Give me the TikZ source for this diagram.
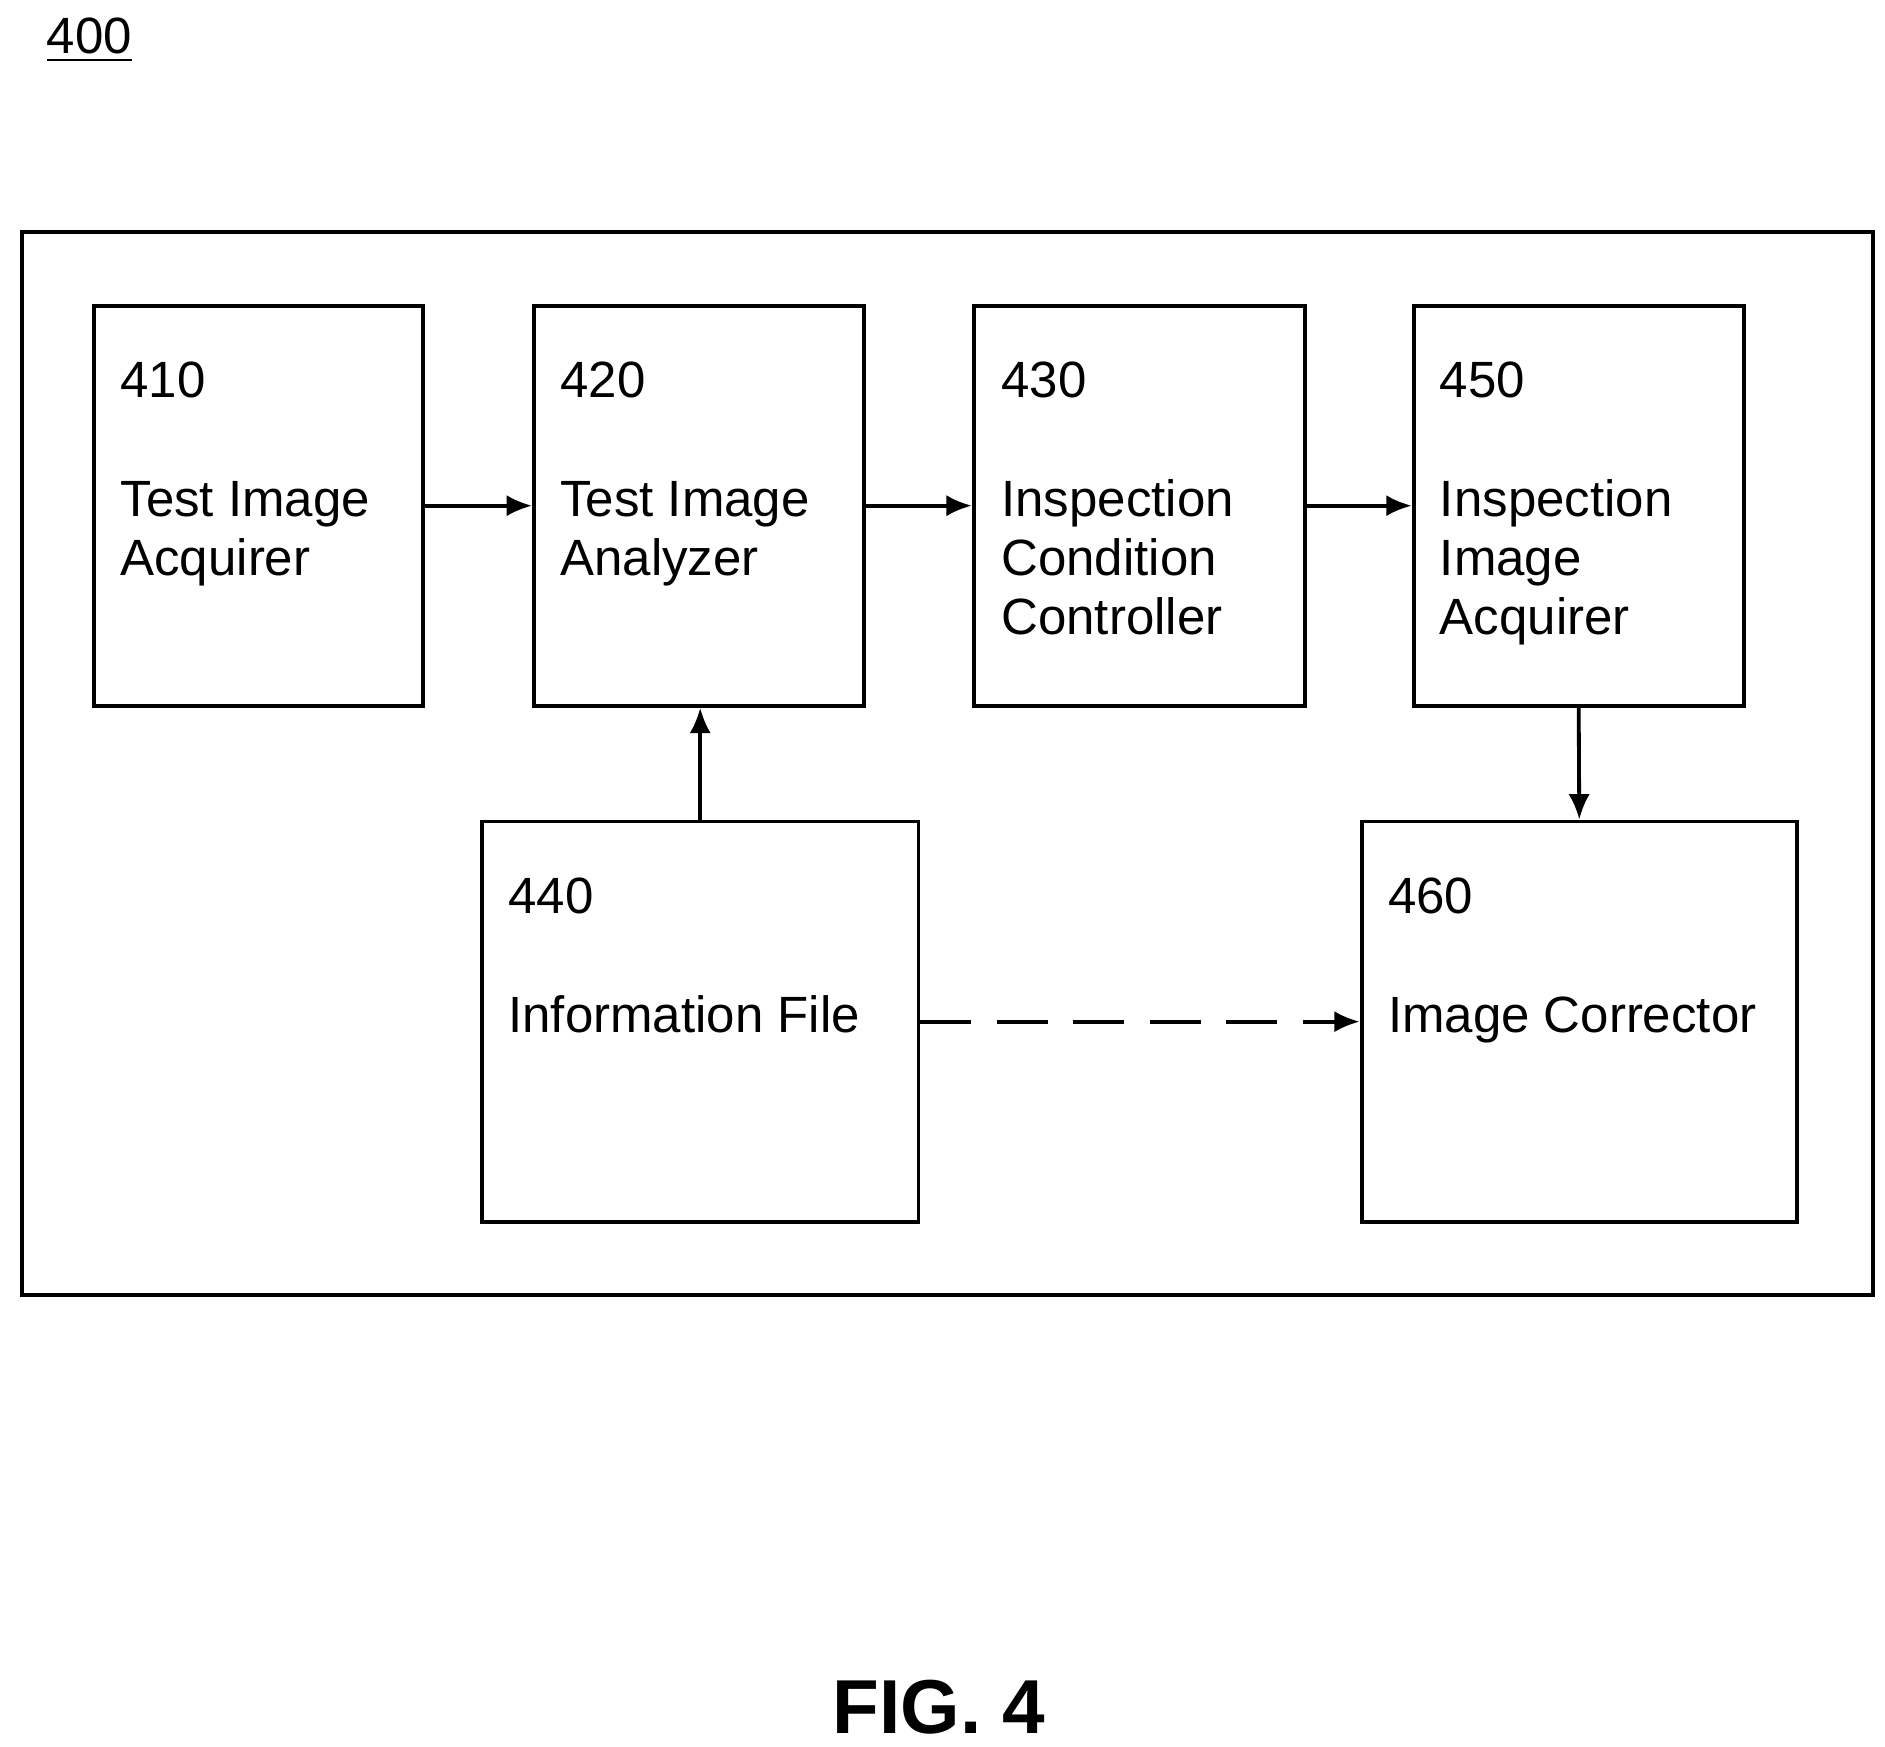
\documentclass[tikz,border=0pt]{standalone}
\usepackage{fontspec}
\setmainfont{Liberation Sans}
\usetikzlibrary{arrows.meta}
\tikzset{
  unit/.style={draw, line width=0.9pt, inner sep=0pt},
  txt/.style={anchor=north west, align=left, inner sep=0pt, font=\fontsize{12}{13.9}\selectfont},
  flow/.style={line width=0.9pt, -{Latex[length=6pt,width=5pt]}}
}
\begin{document}
\begin{tikzpicture}[x=0.01cm,y=-0.01cm]
    \useasboundingbox (0,0) rectangle (1560,1445);
    % label and frame
    \node[anchor=north west, inner sep=0pt, font=\fontsize{12}{14}\selectfont] (num) at (38,14) {\underline{400}};
    \draw[line width=0.9pt] (18,192) rectangle (1550,1072);

    % Blocks
    \node[unit, minimum width=2.72cm, minimum height=3.31cm] (acq) at (214,418.5) {};
    \node[unit, minimum width=2.73cm, minimum height=3.31cm] (ana) at (578.5,418.5) {};
    \node[unit, minimum width=2.74cm, minimum height=3.31cm] (ctl) at (943,418.5) {};
    \node[unit, minimum width=2.73cm, minimum height=3.31cm] (iia) at (1306.5,418.5) {};
    \node[unit, minimum width=3.61cm, minimum height=3.31cm] (inf) at (579.5,845.5) {};
    \node[unit, minimum width=3.60cm, minimum height=3.31cm] (cor) at (1307,845.5) {};

    % Texts
    \node[txt] (acqt) at (99,299) {410\\[14pt]Test Image\\Acquirer};
    \node[txt] (anat) at (463,299) {420\\[14pt]Test Image\\Analyzer};
    \node[txt] (ctlt) at (828,299) {430\\[14pt]Inspection\\Condition\\Controller};
    \node[txt] (iiat) at (1191,299) {450\\[14pt]Inspection\\Image\\Acquirer};
    \node[txt] (inft) at (420,726) {440\\[14pt]Information File};
    \node[txt] (cort) at (1148,726) {460\\[14pt]Image Corrector};

    % Connectors
    \draw[flow] (acq.east) -- (ana.west);
    \draw[flow] (ana.east) -- (ctl.west);
    \draw[flow] (ctl.east) -- (iia.west);
    \draw[flow] (iia.south) -- (cor.north);
    \draw[flow] (inf.north) -- (inf.north |- ana.south);
    \draw[flow, dash pattern=on 12pt off 6pt] (inf.east) -- (cor.west);

    \node[font=\fontsize{18}{20}\selectfont\bfseries] (fig) at (777,1413) {FIG. 4};
\end{tikzpicture}
\end{document}
